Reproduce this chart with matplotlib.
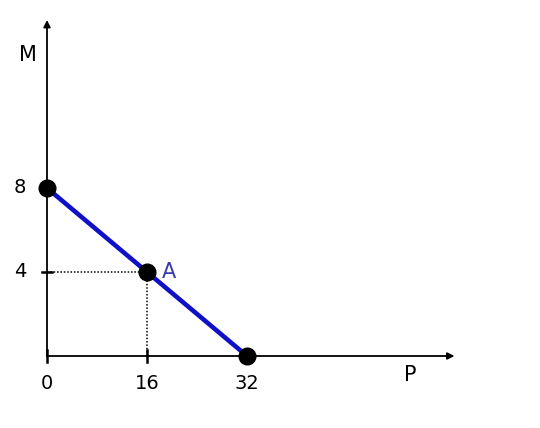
import matplotlib.pyplot as plt

# данные: линия бюджета и точка A
line_p = [0, 32]
line_m = [8, 0]
dots_p = [0, 16, 32]
dots_m = [8, 4, 0]
point_a = (16, 4)
x_ticks = [0, 16, 32]
y_ticks = [4, 8]

fig = plt.figure(figsize=(5.4, 4.28), dpi=100)
ax = fig.add_axes([0, 0, 1, 1])
ax.set_xlim(-7.52, 78.88)
ax.set_ylim(-3.4286, 16.952)
ax.axis('off')

# оси со стрелками
ax.annotate('', xy=(65.2, 0), xytext=(0, 0),
            arrowprops=dict(arrowstyle='-|>', color='black', lw=1.3,
                            mutation_scale=10, shrinkA=0, shrinkB=0))
ax.annotate('', xy=(0, 16.0), xytext=(0, 0),
            arrowprops=dict(arrowstyle='-|>', color='black', lw=1.3,
                            mutation_scale=10, shrinkA=0, shrinkB=0))

# засечки
for xt in x_ticks:
    ax.plot([xt, xt], [-0.3, 0.3], color='black', lw=1.8)
for yt in y_ticks:
    ax.plot([-0.8, 0.8], [yt, yt], color='black', lw=1.8)

# пунктир к точке A
ax.plot([0, point_a[0]], [point_a[1], point_a[1]], color='black', lw=1.1, ls=(0, (1, 1.2)))
ax.plot([point_a[0], point_a[0]], [0, point_a[1]], color='black', lw=1.1, ls=(0, (1, 1.2)))

ax.plot(line_p, line_m, color='#1010c8', lw=3.3, solid_capstyle='butt', zorder=3)
ax.plot(dots_p, dots_m, 'o', color='black', markersize=12, zorder=4)

fs = 14
for xt in x_ticks:
    ax.text(xt, -1.3, str(xt), ha='center', va='center', fontsize=fs)
for yt in y_ticks:
    ax.text(-4.3, yt, str(yt), ha='center', va='center', fontsize=fs)

ax.text(-3.0, 14.35, 'M', ha='center', va='center', fontsize=15)
ax.text(58.1, -0.9, 'P', ha='center', va='center', fontsize=15)
ax.text(19.5, 4.0, 'A', ha='center', va='center', fontsize=15, color='#3a3ab0')

fig.savefig('out.png', dpi=100)
